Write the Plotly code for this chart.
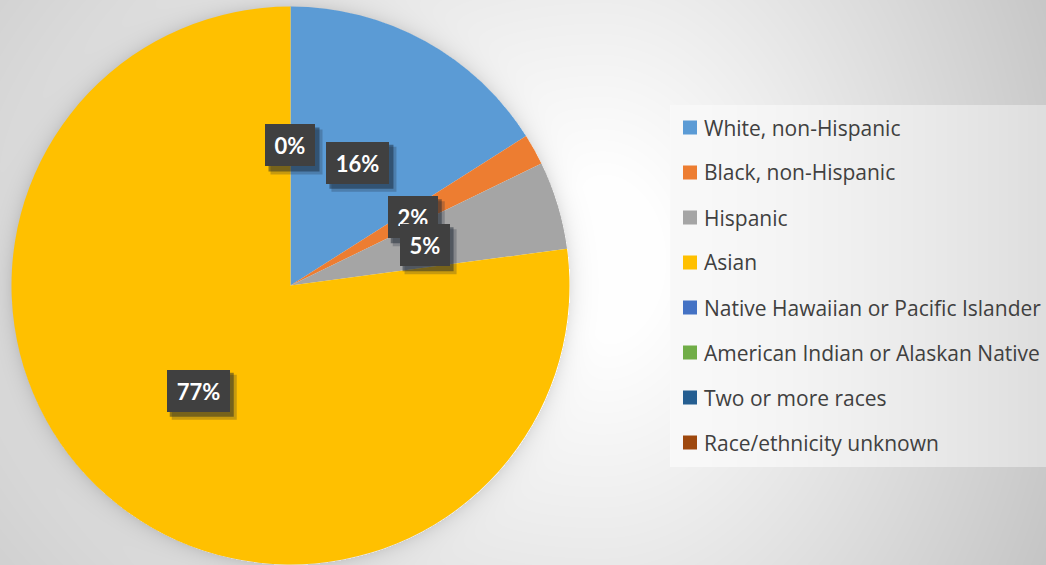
import base64, struct, zlib
import numpy as np
import plotly.graph_objects as go

categories = ["White, non-Hispanic", "Black, non-Hispanic", "Hispanic", "Asian",
              "Native Hawaiian or Pacific Islander", "American Indian or Alaskan Native",
              "Two or more races", "Race/ethnicity unknown"]
values = [16.0, 1.8, 5.1, 77.1, 0.0, 0.0, 0.0, 0.0]
colors = ["#5B9BD5", "#ED7D31", "#A5A5A5", "#FFC000", "#4472C4", "#70AD47", "#255E91", "#9E480E"]

W, H = 1046, 565
CX, CY, R = 290.5, 285.5, 279.0
label_r = 140.0

# ---------- background picture (gradient + pie shadow + legend panel) ----------
yy, xx = np.mgrid[0:H, 0:W].astype(float)
dx = xx - 600
sx = np.where(dx > 0, 470.0, 820.0)
t = np.sqrt((dx / sx) ** 2 + ((yy - 260) / 620.0) ** 2)
t = np.clip((t - 0.12) / 0.95, 0, 1)
val = 255 - 58 * t ** 1.05
dp = np.sqrt((xx - CX) ** 2 + (yy - CY) ** 2)
ring = np.where(dp > R, np.exp(-(dp - R) / 9.0), 0.0)
val = val - 24 * ring
lx0, lx1, ly0, ly1 = 670, 1046, 105, 467
inside = (xx >= lx0) & (xx < lx1) & (yy >= ly0) & (yy < ly1)
panel = 249 - 27 * ((xx - lx0) / (lx1 - lx0)) ** 1.5
val = np.where(inside, panel, val)
img = np.clip(val, 0, 255).astype(np.uint8)
rgb = np.stack([img, img, img], axis=2)

def png_uri(arr):
    h, w, _ = arr.shape
    raw = b"".join(b"\x00" + arr[r].tobytes() for r in range(h))
    def chunk(tag, data):
        c = struct.pack(">I", len(data)) + tag + data
        return c + struct.pack(">I", zlib.crc32(tag + data) & 0xFFFFFFFF)
    png = (b"\x89PNG\r\n\x1a\n" + chunk(b"IHDR", struct.pack(">IIBBBBB", w, h, 8, 2, 0, 0, 0))
           + chunk(b"IDAT", zlib.compress(raw, 9)) + chunk(b"IEND", b""))
    return "data:image/png;base64," + base64.b64encode(png).decode()

fig = go.Figure(go.Pie(
    labels=categories, values=values, sort=False, direction="clockwise", rotation=0,
    marker=dict(colors=colors, line=dict(width=0)),
    textinfo="none", hoverinfo="label+percent", showlegend=False,
    domain=dict(x=[(CX - R) / W, (CX + R) / W], y=[1 - (CY + R) / H, 1 - (CY - R) / H]),
))

fig.add_layout_image(dict(source=png_uri(rgb), xref="paper", yref="paper", x=0, y=1,
                          sizex=1, sizey=1, sizing="stretch", layer="below",
                          xanchor="left", yanchor="top"))

# ---------- data labels (dark callout boxes with drop shadow) ----------
total = sum(values)
cum = 0.0
labels, shapes = [], []
seen = set()
PAD = 8
for v in values:
    mid = (cum + v / 2) / total * 360
    cum += v
    a = np.radians(mid)
    px = CX + label_r * np.sin(a)
    py = CY - label_r * np.cos(a)
    key = (round(px, 1), round(py, 1))
    if key in seen:          # zero-size slices share one callout
        continue
    seen.add(key)
    txt = f"{round(v / total * 100):.0f}%"
    bw = round(12.5 * (len(txt) - 1) + 22 + 16)
    bh = 42
    ax, ay = px / W, 1 - py / H
    shapes.append(dict(type="rect", xref="paper", yref="paper", xsizemode="pixel", ysizemode="pixel",
                       xanchor=ax, yanchor=ay, x0=-bw / 2 + 5, x1=bw / 2 + 7, y0=-bh / 2 - 8, y1=bh / 2 - 5,
                       fillcolor="rgba(30,40,55,0.25)", line=dict(width=0), layer="above"))
    shapes.append(dict(type="rect", xref="paper", yref="paper", xsizemode="pixel", ysizemode="pixel",
                       xanchor=ax, yanchor=ay, x0=-bw / 2 + 3, x1=bw / 2 + 4, y0=-bh / 2 - 5, y1=bh / 2 - 3,
                       fillcolor="rgba(20,30,45,0.45)", line=dict(width=0), layer="above"))
    labels.append(dict(x=ax, y=ay, xref="paper", yref="paper", showarrow=False,
                       xanchor="center", yanchor="middle", text=f"<b>{txt}</b>",
                       width=bw - 2 * PAD, height=bh - 2 * PAD, borderpad=PAD, borderwidth=0,
                       bgcolor="#404040",
                       font=dict(family="Lato, Open Sans, sans-serif", size=22, color="white")))

# ---------- legend ----------
leg = []
for i, (c, name) in enumerate(zip(colors, categories)):
    yc = 127.5 + 45 * i
    shapes.append(dict(type="rect", xref="paper", yref="paper",
                       x0=683 / W, x1=697 / W, y0=1 - (yc + 7) / H, y1=1 - (yc - 7) / H,
                       fillcolor=c, line=dict(width=0)))
    leg.append(dict(x=702 / W, y=1 - yc / H, xref="paper", yref="paper", showarrow=False,
                    xanchor="left", yanchor="middle", text=name,
                    font=dict(family="Open Sans, sans-serif", size=21, color="#404040")))

fig.update_layout(width=W, height=H, margin=dict(l=0, r=0, t=0, b=0),
                  paper_bgcolor="rgba(0,0,0,0)", plot_bgcolor="rgba(0,0,0,0)",
                  annotations=labels + leg, shapes=shapes)

fig.write_html("out.html", config={"displayModeBar": False},
               post_script="document.body.style.margin='0';document.body.style.overflow='hidden';")
